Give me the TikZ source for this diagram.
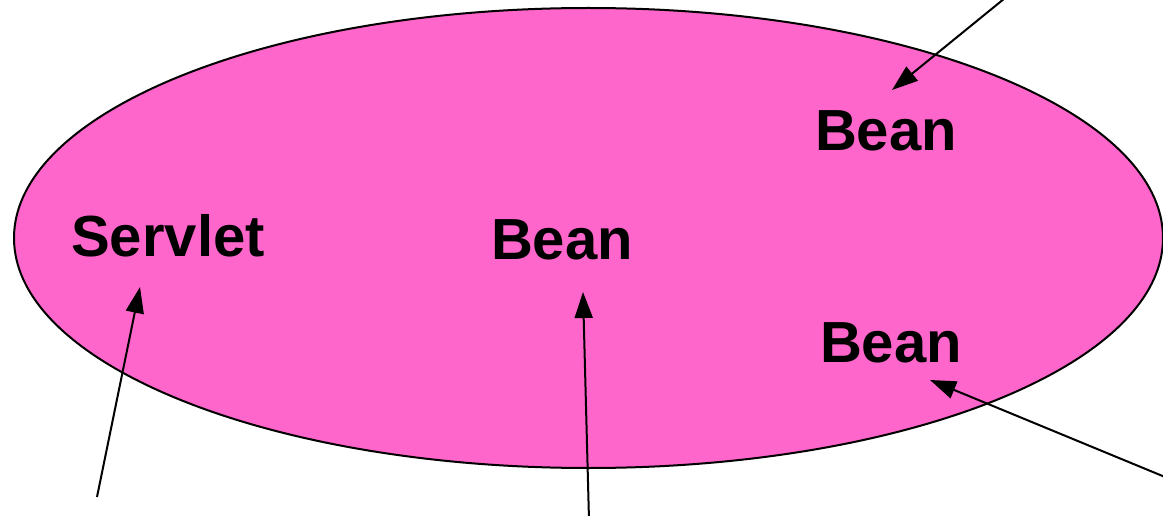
\documentclass[tikz,border=0pt]{standalone}
\usepackage{fontspec}
\setmainfont{Liberation Sans}
\usetikzlibrary{arrows.meta}
\definecolor{blob}{HTML}{FF66CC}
\begin{document}
\begin{tikzpicture}[x=1pt,y=-1pt,
  lbl/.style={font=\fontsize{58}{62}\selectfont\bfseries, anchor=base, inner sep=0pt},
  ptr/.style={line width=2pt, -{Triangle[length=26pt,width=18pt]}}]
\useasboundingbox (0,0) rectangle (1163,516);
\draw[fill=blob, line width=2pt] (588.5,238) ellipse [x radius=574.5pt, y radius=230pt];
\node[lbl] (servlet) at (168,256) {Servlet};
\node[lbl] (beanmid) at (562,259) {Bean};
\node[lbl] (beantop) at (886,151) {Bean};
\node[lbl] (beanbot) at (891,362) {Bean};
\coordinate (t1) at (1010,-6);
\coordinate (h1) at (892,90);
\coordinate (t2) at (97,497);
\coordinate (h2) at (140,287);
\coordinate (t3) at (589,520);
\coordinate (h3) at (583,292);
\coordinate (t4) at (1165,477);
\coordinate (h4) at (930,380);
\draw[ptr] (t1) -- (h1);
\draw[ptr] (t2) -- (h2);
\draw[ptr] (t3) -- (h3);
\draw[ptr] (t4) -- (h4);
\end{tikzpicture}
\end{document}
